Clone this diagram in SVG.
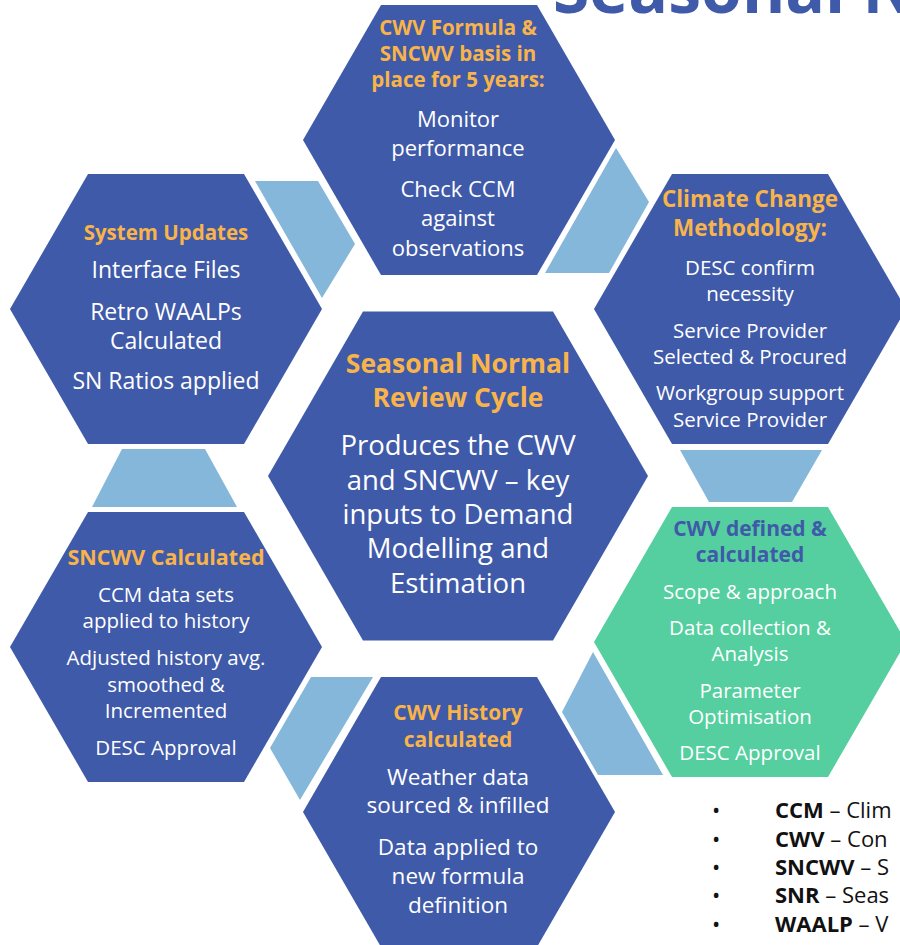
<svg xmlns="http://www.w3.org/2000/svg" width="900" height="945" viewBox="0 0 900 945">
  <style>
    .hex { fill: #3F5AA8; }
    .hex.green { fill: #55CF9F; }
    .link { fill: #84B7D9; }
    text { font-family: "Open Sans", "Liberation Sans", sans-serif; text-anchor: middle; }
    .head { font-weight: 700; fill: #F8B44A; }
    .head.dark { fill: #3F5AA8; }
    .body { fill: #FFFFFF; }
    text.title { font-weight: 700; fill: #3F5AA8; text-anchor: start; font-size: 66px; }
    .legend text { fill: #111111; font-size: 22px; text-anchor: start; }
    .legend .term { font-weight: 700; }
  </style>

  <!-- page title, running off the top edge -->
  <text class="title" x="553" y="13">Seasonal N</text>

  <!-- connectors between neighbouring cells -->
  <g id="connectors">
    <polygon class="link" points="255,181 318,181 355,244 322,298"/>
    <polygon class="link" points="616,148 649,202 609,273 545,273"/>
    <polygon class="link" points="680,450 822,450 792,502 709,502"/>
    <polygon class="link" points="593,652 663,775 598,775 562,712"/>
    <polygon class="link" points="311,677 373,677 300,800 270,748"/>
    <polygon class="link" points="122,449 205,449 237,507 92,507"/>
  </g>

  <g id="centre">
    <polygon class="hex" points="268,476 363,311.5 553,311.5 648,476 553,640.5 363,640.5"/>
    <text class="head" font-size="26.5" x="458" y="373">Seasonal Normal</text>
    <text class="head" font-size="26.5" x="458" y="407">Review Cycle</text>
    <text class="body" font-size="27.5" x="458" y="455">Produces the CWV</text>
    <text class="body" font-size="27.5" x="458" y="490">and SNCWV – key</text>
    <text class="body" font-size="27.5" x="458" y="524">inputs to Demand</text>
    <text class="body" font-size="27.5" x="458" y="558">Modelling and</text>
    <text class="body" font-size="27.5" x="458" y="593">Estimation</text>
  </g>

  <g id="formula-basis">
    <polygon class="hex" points="303,140 381,5 537,5 615,140 537,275 381,275"/>
    <text class="head" font-size="20.5" x="458" y="35">CWV Formula &amp;</text>
    <text class="head" font-size="20.5" x="458" y="61">SNCWV basis in</text>
    <text class="head" font-size="20.5" x="458" y="87">place for 5 years:</text>
    <text class="body" font-size="22" x="458" y="127">Monitor</text>
    <text class="body" font-size="22" x="458" y="156">performance</text>
    <text class="body" font-size="22" x="458" y="197">Check CCM</text>
    <text class="body" font-size="22" x="458" y="226">against</text>
    <text class="body" font-size="22" x="458" y="256">observations</text>
  </g>

  <g id="climate-change">
    <polygon class="hex" points="594,309 672,174 828,174 906,309 828,444 672,444"/>
    <text class="head" font-size="22.5" x="750" y="207">Climate Change</text>
    <text class="head" font-size="22.5" x="750" y="236">Methodology:</text>
    <text class="body" font-size="20.5" x="750" y="275">DESC confirm</text>
    <text class="body" font-size="20.5" x="750" y="301">necessity</text>
    <text class="body" font-size="20.5" x="750" y="338">Service Provider</text>
    <text class="body" font-size="20.5" x="750" y="364">Selected &amp; Procured</text>
    <text class="body" font-size="20.5" x="750" y="400">Workgroup support</text>
    <text class="body" font-size="20.5" x="750" y="427">Service Provider</text>
  </g>

  <g id="cwv-defined">
    <polygon class="hex green" points="594,642 672,507 828,507 906,642 828,777 672,777"/>
    <text class="head dark" font-size="21" x="750" y="536">CWV defined &amp;</text>
    <text class="head dark" font-size="21" x="750" y="562">calculated</text>
    <text class="body" font-size="20.5" x="750" y="599">Scope &amp; approach</text>
    <text class="body" font-size="20.5" x="750" y="635">Data collection &amp;</text>
    <text class="body" font-size="20.5" x="750" y="661">Analysis</text>
    <text class="body" font-size="20.5" x="750" y="698">Parameter</text>
    <text class="body" font-size="20.5" x="750" y="724">Optimisation</text>
    <text class="body" font-size="20.5" x="750" y="760">DESC Approval</text>
  </g>

  <g id="cwv-history">
    <polygon class="hex" points="303,812 381,677 537,677 615,812 537,947 381,947"/>
    <text class="head" font-size="21" x="458" y="720">CWV History</text>
    <text class="head" font-size="21" x="458" y="747">calculated</text>
    <text class="body" font-size="22.5" x="458" y="785">Weather data</text>
    <text class="body" font-size="22.5" x="458" y="813">sourced &amp; infilled</text>
    <text class="body" font-size="22.5" x="458" y="855">Data applied to</text>
    <text class="body" font-size="22.5" x="458" y="884">new formula</text>
    <text class="body" font-size="22.5" x="458" y="913">definition</text>
  </g>

  <g id="sncwv-calculated">
    <polygon class="hex" points="10,647 88,512 244,512 322,647 244,782 88,782"/>
    <text class="head" font-size="21.5" x="166" y="565">SNCWV Calculated</text>
    <text class="body" font-size="20.5" x="166" y="602">CCM data sets</text>
    <text class="body" font-size="20.5" x="166" y="628">applied to history</text>
    <text class="body" font-size="20.5" x="166" y="665">Adjusted history avg.</text>
    <text class="body" font-size="20.5" x="166" y="692">smoothed &amp;</text>
    <text class="body" font-size="20.5" x="166" y="718">Incremented</text>
    <text class="body" font-size="20.5" x="166" y="755">DESC Approval</text>
  </g>

  <g id="system-updates">
    <polygon class="hex" points="10,309 88,174 244,174 322,309 244,444 88,444"/>
    <text class="head" font-size="20.5" x="166" y="240">System Updates</text>
    <text class="body" font-size="23" x="166" y="278">Interface Files</text>
    <text class="body" font-size="23" x="166" y="320">Retro WAALPs</text>
    <text class="body" font-size="23" x="166" y="349">Calculated</text>
    <text class="body" font-size="23" x="166" y="389">SN Ratios applied</text>
  </g>

  <!-- abbreviations list -->
  <g id="abbreviations" class="legend">
    <text x="712" y="818">•</text>
    <text x="775" y="818"><tspan class="term">CCM</tspan> – Clim</text>
    <text x="712" y="847">•</text>
    <text x="775" y="847"><tspan class="term">CWV</tspan> – Con</text>
    <text x="712" y="875">•</text>
    <text x="775" y="875"><tspan class="term">SNCWV</tspan> – S</text>
    <text x="712" y="903">•</text>
    <text x="775" y="903"><tspan class="term">SNR</tspan> – Seas</text>
    <text x="712" y="932">•</text>
    <text x="775" y="932"><tspan class="term">WAALP</tspan> – V</text>
  </g>
</svg>
